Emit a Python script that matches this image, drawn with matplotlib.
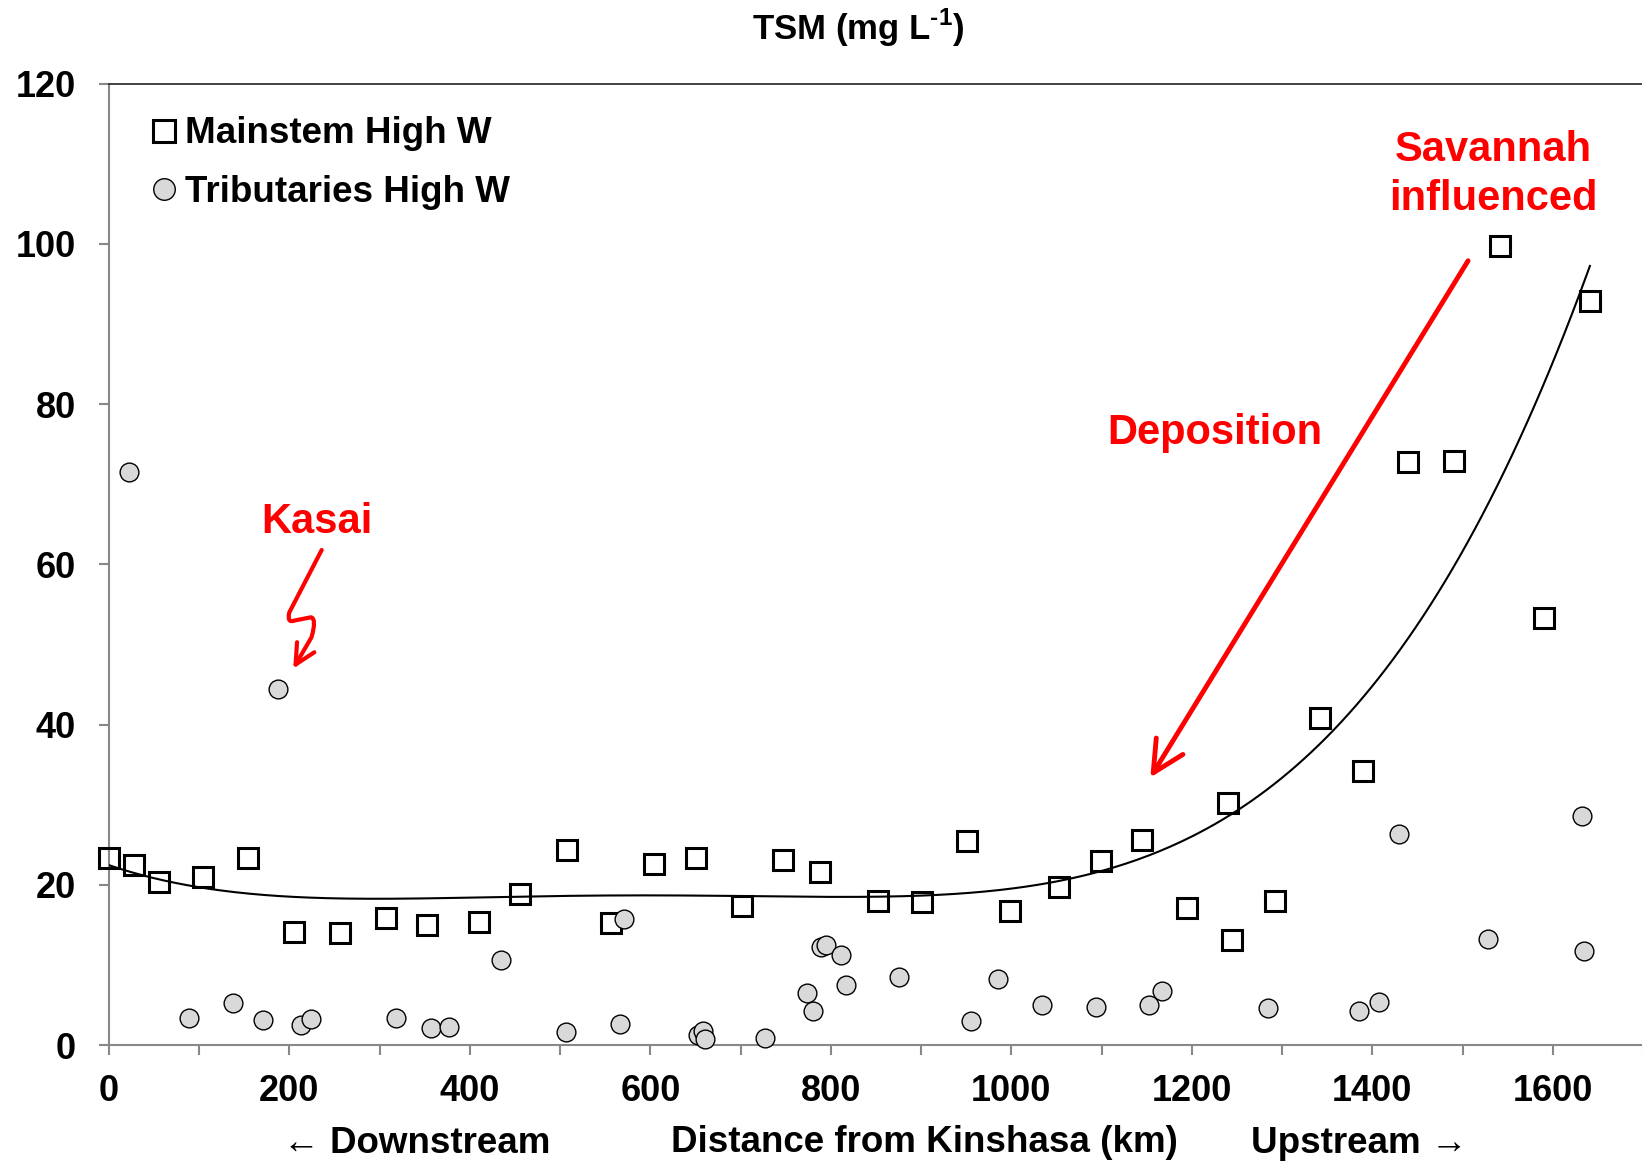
import numpy as np
import matplotlib
matplotlib.use('Agg')
import matplotlib.pyplot as plt
from matplotlib.path import Path
from matplotlib.patches import FancyArrowPatch

# ---- data ----
main_km = [0, 28, 56, 104, 154, 205, 256, 307, 353, 410, 455, 508, 556, 604, 650,
           702, 747, 788, 852, 901, 951, 999, 1053, 1099, 1145, 1195, 1240, 1244,
           1292, 1342, 1390, 1439, 1490, 1541, 1590, 1641]
main_tsm = [23.3, 22.5, 20.4, 21.0, 23.4, 14.1, 14.0, 15.8, 15.0, 15.4, 18.8, 24.3,
            15.3, 22.6, 23.3, 17.3, 23.1, 21.6, 18.0, 17.8, 25.5, 16.7, 19.7, 23.0,
            25.6, 17.1, 30.2, 13.1, 18.0, 40.8, 34.2, 72.8, 72.9, 99.7, 53.3, 92.9]

trib_km = [22, 89, 137, 171, 187, 213, 224, 318, 357, 377, 434, 506, 566, 571, 653,
           658, 660, 727, 773, 780, 789, 795, 811, 817, 875, 955, 985, 1034, 1094,
           1152, 1167, 1284, 1385, 1407, 1429, 1528, 1632, 1634]
trib_tsm = [71.5, 3.4, 5.2, 3.1, 44.4, 2.5, 3.3, 3.4, 2.1, 2.2, 10.6, 1.6, 2.6, 15.7,
            1.3, 1.7, 0.8, 0.9, 6.5, 4.3, 12.2, 12.5, 11.2, 7.5, 8.5, 3.0, 8.2, 5.0,
            4.7, 5.0, 6.7, 4.6, 4.2, 5.4, 26.3, 13.2, 28.6, 11.8]

x_ticks = [0, 200, 400, 600, 800, 1000, 1200, 1400, 1600]
y_ticks = [0, 20, 40, 60, 80, 100, 120]
fit_degree = 4

plt.rcParams['font.family'] = ['Liberation Sans', 'DejaVu Sans']
plt.rcParams['font.weight'] = 'bold'
plt.rcParams['axes.labelweight'] = 'bold'
plt.rcParams['mathtext.fontset'] = 'custom'
plt.rcParams['mathtext.rm'] = 'Liberation Sans:bold'
plt.rcParams['mathtext.bf'] = 'Liberation Sans:bold'

fig = plt.figure(figsize=(16.42, 11.63), dpi=100)
ax = fig.add_axes([0.0663, 0.1014, 0.9344, 0.8266])

ax.plot(main_km, main_tsm, linestyle='none', marker='s', ms=14, mfc='none',
        mec='black', mew=2.2, label='Mainstem High W', zorder=3, clip_on=False)
ax.plot(trib_km, trib_tsm, linestyle='none', marker='o', ms=13.5, mfc='#d9d9d9',
        mec='black', mew=1.0, label='Tributaries High W', zorder=4, clip_on=False)

coef = np.polyfit(main_km, main_tsm, fit_degree)
xs = np.linspace(min(main_km), max(main_km), 400)
ax.plot(xs, np.polyval(coef, xs), color='black', lw=1.5, zorder=5)

ax.set_xlim(0, 1700)
ax.set_ylim(0, 120)
ax.set_xticks(x_ticks)
ax.set_xticks([t + 100 for t in x_ticks], minor=True)
ax.set_yticks(y_ticks)
ax.tick_params(axis='both', which='both', direction='out', length=7.5, width=1.5,
               color='#888888', labelsize=26)
ax.tick_params(axis='x', which='major', pad=13)
ax.tick_params(axis='y', pad=16)
for s in ['left', 'bottom']:
    ax.spines[s].set_color('#888888')
    ax.spines[s].set_linewidth(1.5)
ax.spines['right'].set_visible(False)
ax.spines['top'].set_color('#333333')
ax.spines['top'].set_linewidth(1.3)

ax.legend(loc='upper left', bbox_to_anchor=(0.029, 0.966), frameon=False,
          fontsize=26.5, handlelength=0.6, handletextpad=0.25, labelspacing=0.65,
          borderpad=0, borderaxespad=0, numpoints=1, markerscale=1.15)

# title and axis texts
fig.text(858 / 1642, 1 - 40 / 1163, r'TSM (mg L$^{\text{-1}}$)', ha='center',
         va='baseline', fontsize=25)
ax.set_xlabel('Distance from Kinshasa (km)', fontsize=26.5, fontweight='bold')
ax.xaxis.set_label_coords(0.5313, -0.1115)
ax.xaxis.label.set_va('baseline')
fig.text(417 / 1642, 10 / 1163, '\u2190 Downstream', ha='center', va='baseline',
         fontsize=26.5)
fig.text(1359 / 1642, 10 / 1163, 'Upstream \u2192', ha='center', va='baseline',
         fontsize=26.5)

# red annotations
red = '#ff0000'
ax.text(230, 63.9, 'Kasai', color=red, fontsize=30, ha='center', va='baseline')
ax.text(1225, 75.0, 'Deposition', color=red, fontsize=30, ha='center', va='baseline')
ax.text(1534, 110.4, 'Savannah', color=red, fontsize=30, ha='center', va='baseline')
ax.text(1534, 104.2, 'influenced', color=red, fontsize=30, ha='center', va='baseline')

dep = FancyArrowPatch(posA=(1506, 97.9), posB=(1154, 33.4),
                      arrowstyle='->,head_length=0.9,head_width=0.45',
                      mutation_scale=25, lw=3.5, color=red, shrinkA=0, shrinkB=0,
                      zorder=6)
ax.add_patch(dep)

verts = [(235.8, 61.8), (199.9, 54.0), (197.0, 52.6), (206.0, 53.0), (224.0, 53.4),
         (230.5, 53.2), (224.5, 50.9), (204.3, 47.0)]
codes = [Path.MOVETO, Path.LINETO, Path.CURVE3, Path.CURVE3, Path.LINETO,
         Path.CURVE3, Path.CURVE3, Path.LINETO]
kas = FancyArrowPatch(path=Path(verts, codes),
                      arrowstyle='->,head_length=0.6,head_width=0.3',
                      mutation_scale=24, lw=3.0, color=red, zorder=6)
ax.add_patch(kas)

fig.savefig('out.png', dpi=100)
